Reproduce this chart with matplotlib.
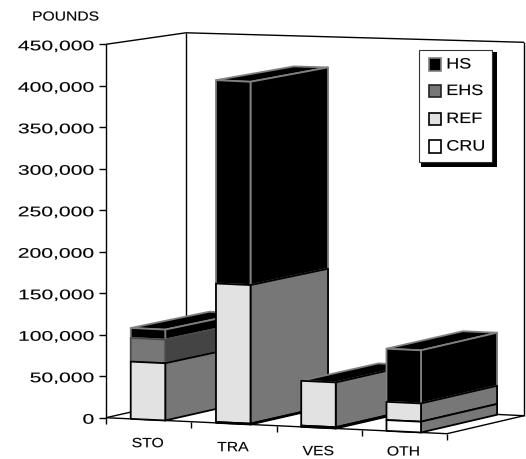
import matplotlib
matplotlib.use("Agg")
import matplotlib.pyplot as plt
import matplotlib.patheffects as pe
from matplotlib.patches import Polygon, Rectangle
from matplotlib.transforms import Affine2D

categories = ["STO", "TRA", "VES", "OTH"]
cru = [0, 1000, 1500, 13000]
ref = [69000, 167000, 54000, 22000]
ehs = [28500, 0, 0, 0]
hs = [12000, 245000, 0, 64000]
y_ticks = [0, 50000, 100000, 150000, 200000, 250000, 300000, 350000, 400000, 450000]
legend_names = ["HS", "EHS", "REF", "CRU"]

FRONT = {"CRU": "#ffffff", "REF": "#e2e2e2", "EHS": "#777777", "HS": "#000000"}
SIDE = {"CRU": "#777777", "REF": "#777777", "EHS": "#444444", "HS": "#000000"}
EDGE = {"CRU": "#000000", "REF": "#000000", "EHS": "#4a4a4a", "HS": "#808080"}

plt.rcParams["font.family"] = ["Liberation Sans", "DejaVu Sans"]


class Stretch(pe.AbstractPathEffect):
    # the reference type is a horizontally stretched sans
    def __init__(self, k, anchor=0.5, stroke=0.1):
        super().__init__()
        self.k = k
        self.anchor = anchor
        self.stroke = stroke

    def draw_path(self, renderer, gc, tpath, affine, rgbFace=None):
        box = tpath.get_extents()
        x0 = box.x0 + self.anchor * box.width
        t = Affine2D().translate(-x0, 0).scale(self.k, 1).translate(x0, 0) + affine
        gc0 = renderer.new_gc()
        gc0.copy_properties(gc)
        gc0.set_linewidth(self.stroke)
        gc0.set_foreground(rgbFace)
        renderer.draw_path(gc0, tpath, t, rgbFace)
        gc0.restore()


def project(u, d, v):
    # u along the front floor edge (one unit per category), d front to back, v pounds
    shrink = 1 - d * (0.0174 - 0.00435 * u)
    px = 106 + 85.25 * u + d * (80 - 0.75 * u)
    py = 417.7 + 4.0 * u - 18 * d - v * 0.0008298 * shrink
    return px, py


def poly(ax, pts, face, edge, lw=1.3):
    ax.add_patch(Polygon(pts, closed=True, facecolor=face, edgecolor=edge, linewidth=lw, joinstyle="round", zorder=2))


def line(ax, a, b, color="black", lw=1.0):
    ax.plot([a[0], b[0]], [a[1], b[1]], color=color, lw=lw, solid_capstyle="butt", zorder=1)


def label(ax, x, y, s, size, k, ha="center"):
    anchor = {"left": 0.0, "center": 0.5, "right": 1.0}[ha]
    ax.text(x, y, s, fontsize=size, ha=ha, va="center", color="black", path_effects=[Stretch(k, anchor)])


fig = plt.figure(figsize=(5.26, 4.59), dpi=100)
ax = fig.add_axes([0, 0, 1, 1])
ax.set_xlim(0, 526)
ax.set_ylim(459, 0)
ax.axis("off")

vmax = y_ticks[-1]

# walls and floor
line(ax, project(0, 0, 0), project(0, 0, vmax))
line(ax, project(0, 1, 0), project(0, 1, vmax))
line(ax, project(4, 1, 0), project(4, 1, vmax))
line(ax, project(0, 0, vmax), project(0, 1, vmax))
line(ax, project(0, 1, vmax), project(4, 1, vmax))
line(ax, project(0, 0, 0), project(0, 1, 0))
line(ax, project(0, 1, 0), project(4, 1, 0))
line(ax, project(4, 0, 0), project(4, 1, 0))
line(ax, project(0, 0, 0), project(4, 0, 0))

for v in y_ticks:
    x, y = project(0, 0, v)
    line(ax, (x - 7, y), (x, y))
    label(ax, 94, y + 2, f"{v:,}", 10.0, 1.52, ha="right")

for i in range(len(categories) + 1):
    x, y = project(i, 0, 0)
    line(ax, (x, y), (x, y + 6))

for i, name in enumerate(categories):
    x, y = project(i + 0.49, 0, 0)
    # last label sits right on the bottom edge, keep it inside the picture
    label(ax, x, min(y + 24.5, 452.5), name, 9.6, 1.18)

label(ax, 65.5, 17.5, "POUNDS", 9.4, 1.2)

# bars, back to front in category order
U0, U1, D1 = 0.29, 0.695, 0.985
for i in range(len(categories)):
    segs = [("CRU", cru[i]), ("REF", ref[i]), ("EHS", ehs[i]), ("HS", hs[i])]
    base = 0
    spans = []
    for name, val in segs:
        if val > 0:
            spans.append((name, base, base + val))
            base += val
    a, b = i + U0, i + U1
    # top face is black whichever series ends the stack
    poly(ax, [project(a, 0, base), project(b, 0, base), project(b, D1, base), project(a, D1, base)], "#000000", "#808080")
    for name, lo, hi in reversed(spans):
        poly(ax, [project(b, 0, lo), project(b, D1, lo), project(b, D1, hi), project(b, 0, hi)], SIDE[name], EDGE[name])
        poly(ax, [project(a, 0, lo), project(b, 0, lo), project(b, 0, hi), project(a, 0, hi)], FRONT[name], EDGE[name])

# legend
ax.add_patch(Rectangle((421, 52), 76, 115, facecolor="black", edgecolor="none", zorder=5))
ax.add_patch(Rectangle((418.5, 49.5), 73, 112.5, facecolor="white", edgecolor="#333333", linewidth=0.8, zorder=6))
swatch_y = [58, 84.5, 112.5, 140]
for name, sy in zip(legend_names, swatch_y):
    ax.add_patch(Rectangle((429, sy), 12.3, 12.5, facecolor=FRONT[name], edgecolor=EDGE[name] if name != "EHS" else "#222222", linewidth=1.2, zorder=7))
    ax.text(446.5, sy + 6.5, name, fontsize=10.8, ha="left", va="center", color="black",
            path_effects=[Stretch(1.2, 0.0)], zorder=7)

fig.savefig("out.png", dpi=100)
